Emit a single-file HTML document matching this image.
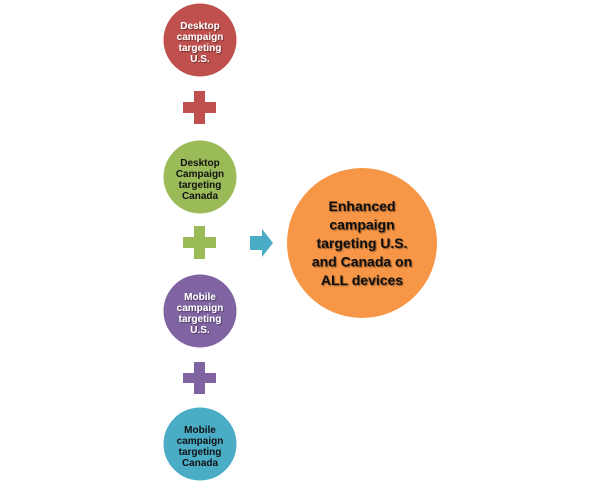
<!DOCTYPE html>
<html><head><meta charset="utf-8"><style>
html,body{margin:0;padding:0;background:#fff;}
svg{display:block;}
text{font-family:"Liberation Sans",sans-serif;font-weight:bold;}
</style></head><body>
<svg width="600" height="486" viewBox="0 0 600 486" xmlns="http://www.w3.org/2000/svg">
<defs>
<filter id="sh" x="-20%" y="-20%" width="140%" height="140%">
<feDropShadow dx="1" dy="1" stdDeviation="0.6" flood-color="#000" flood-opacity="0.45"/>
</filter>
</defs>
<rect width="600" height="486" fill="#fff"/>
<!-- circle 1 -->
<circle cx="200" cy="40" r="36.5" fill="#C0504D"/>
<g font-size="10" fill="#fff" text-anchor="middle" filter="url(#sh)">
<text x="200" y="29">Desktop</text>
<text x="200" y="40">campaign</text>
<text x="200" y="51">targeting</text>
<text x="200" y="62">U.S.</text>
</g>
<!-- plus 1 -->
<path d="M194 91h11v11h11v11h-11v11h-11v-11h-11v-11h11z" fill="#C0504D"/>
<!-- circle 2 -->
<circle cx="200" cy="177" r="36.5" fill="#9BBB59"/>
<g font-size="10" fill="#111" text-anchor="middle">
<text x="200" y="166">Desktop</text>
<text x="200" y="177">Campaign</text>
<text x="200" y="188">targeting</text>
<text x="200" y="199">Canada</text>
</g>
<!-- plus 2 -->
<path d="M194 226h11v11h11v11h-11v11h-11v-11h-11v-11h11z" fill="#9BBB59"/>
<!-- circle 3 -->
<circle cx="200" cy="311" r="36.5" fill="#8064A2"/>
<g font-size="10" fill="#fff" text-anchor="middle" filter="url(#sh)">
<text x="200" y="300">Mobile</text>
<text x="200" y="311">campaign</text>
<text x="200" y="322">targeting</text>
<text x="200" y="333">U.S.</text>
</g>
<!-- plus 3 -->
<path d="M194 362h11v11h11v10h-11v11h-11v-11h-11v-10h11z" fill="#8064A2"/>
<!-- circle 4 -->
<circle cx="200" cy="444" r="36.5" fill="#4BACC6"/>
<g font-size="10" fill="#111" text-anchor="middle">
<text x="200" y="433">Mobile</text>
<text x="200" y="444">campaign</text>
<text x="200" y="455">targeting</text>
<text x="200" y="466">Canada</text>
</g>
<!-- arrow -->
<path d="M250 236h12v-7l11 14l-11 14v-7h-12z" fill="#4BACC6"/>
<!-- big circle -->
<circle cx="362" cy="243" r="75" fill="#F79646"/>
<g font-size="14" fill="#111" text-anchor="middle" filter="url(#sh)">
<text x="362" y="211">Enhanced</text>
<text x="362" y="229.5">campaign</text>
<text x="362" y="248">targeting U.S.</text>
<text x="362" y="266.5">and Canada on</text>
<text x="362" y="285">ALL devices</text>
</g>
</svg>
</body></html>
